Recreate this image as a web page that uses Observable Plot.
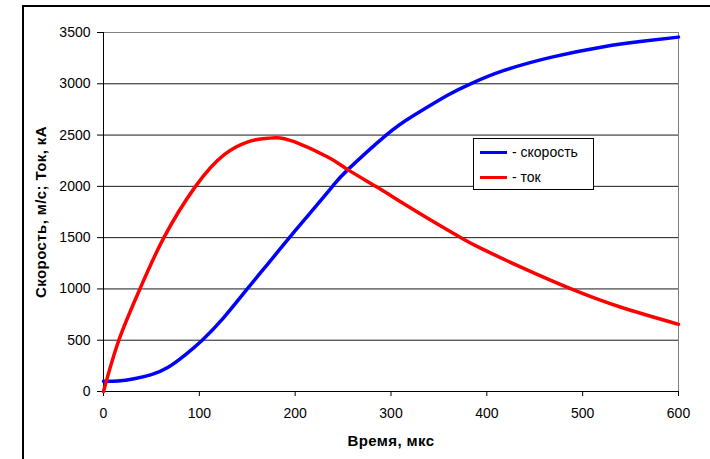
<!DOCTYPE html>
<html>
<head>
<meta charset="utf-8">
<script src="https://cdn.jsdelivr.net/npm/d3@7"></script>
<script src="https://cdn.jsdelivr.net/npm/@observablehq/plot@0.6"></script>
<style>
  html, body { margin: 0; padding: 0; background: #fff; }
  #wrap { position: relative; width: 710px; height: 459px; overflow: hidden; font-family: "Liberation Sans", Arial, sans-serif; }
  #frame { position: absolute; left: 22px; top: 5px; width: 800px; height: 600px; border-left: 2px solid #000; border-top: 2px solid #000; pointer-events: none; }
  #chart { position: absolute; left: 0; top: 0; }
  #legend { position: absolute; left: 473px; top: 138px; width: 119px; height: 49px; border: 1px solid #000; background: #fff; font-size: 14px; padding-top: 1px; box-sizing: content-box; }
  .row { height: 25px; line-height: 25px; display: flex; align-items: center; padding-left: 6px; white-space: nowrap; }
  .sw { width: 27px; height: 3px; margin-right: 5px; }
  .title-text { letter-spacing: 0.4px; }
</style>
</head>
<body>
<div id="wrap">
  <div id="chart"></div>
  <div id="frame"></div>
  <div id="legend"></div>
</div>
<script>
// Data
const speedTime = [0, 15, 32, 50, 67, 85, 103, 125, 150, 172, 194, 216, 239, 255, 295, 324, 359, 383, 418, 470, 522, 560, 600];
const speed     = [100, 103, 125, 165, 234, 355, 500, 715, 1000, 1250, 1500, 1745, 2000, 2163, 2500, 2693, 2888, 3000, 3130, 3265, 3362, 3412, 3455];

const currentTime = [0, 16, 38, 63, 96, 126, 150, 164, 180, 199, 234, 255, 284, 310, 340, 373, 394, 435, 488, 540, 600];
const current     = [0, 500, 1000, 1500, 2000, 2310, 2432, 2462, 2475, 2435, 2286, 2163, 2000, 1850, 1680, 1500, 1395, 1215, 1000, 821, 655];

const xTicks = [0, 100, 200, 300, 400, 500, 600];
const yTicks = [0, 500, 1000, 1500, 2000, 2500, 3000, 3500];

const seriesNames = ["- скорость", "- ток"];
const seriesColors = ["#0000FF", "#FF0000"];
const xTitle = "Время, мкс";
const yTitle = "Скорость, м/с; Ток, кА";

const speedData = speedTime.map((t, i) => ({t, v: speed[i]}));
const currentData = currentTime.map((t, i) => ({t, v: current[i]}));

const chart = Plot.plot({
  width: 710,
  height: 459,
  marginLeft: 103,
  marginRight: 32,
  marginTop: 32,
  marginBottom: 68,
  x: {domain: [0, 600]},
  y: {domain: [0, 3500]},
  style: {fontFamily: "'Liberation Sans', Arial, sans-serif", fontSize: "14px", color: "#000", background: "transparent", overflow: "visible"},
  marks: [
    Plot.ruleY(yTicks.filter(d => d > 0 && d < 3500), {stroke: "#000", strokeWidth: 1, strokeOpacity: 0.9}),
    Plot.ruleY([3500], {stroke: "#808080", strokeWidth: 1}),
    Plot.ruleX([600], {stroke: "#808080", strokeWidth: 1}),
    Plot.axisY(yTicks, {tickSize: 6, tickPadding: 7, label: null, tickFormat: d => String(d), stroke: "#000", fill: "#000"}),
    Plot.axisX(xTicks, {tickSize: 5, tickPadding: 12, label: null, tickFormat: d => String(d), stroke: "#000", fill: "#000"}),
    Plot.ruleX([0], {stroke: "#000", strokeWidth: 1}),
    Plot.ruleY([0], {stroke: "#000", strokeWidth: 1}),
    Plot.line(speedData, {x: "t", y: "v", stroke: seriesColors[0], strokeWidth: 3.5, curve: "natural"}),
    Plot.line(currentData, {x: "t", y: "v", stroke: seriesColors[1], strokeWidth: 3.5, curve: "natural"}),
    Plot.text([xTitle], {frameAnchor: "bottom", dy: 50, lineAnchor: "middle", fontWeight: "bold", fontSize: 15, fill: "#000", className: "title-text"}),
    Plot.text([yTitle], {frameAnchor: "left", dx: -62, rotate: -90, textAnchor: "middle", lineAnchor: "middle", fontWeight: "bold", fontSize: 15, fill: "#000", className: "title-text"})
  ]
});
document.getElementById("chart").appendChild(chart);

const legend = document.getElementById("legend");
seriesNames.forEach((name, i) => {
  const row = document.createElement("div");
  row.className = "row";
  const sw = document.createElement("div");
  sw.className = "sw";
  sw.style.background = seriesColors[i];
  const label = document.createElement("span");
  label.textContent = name;
  row.appendChild(sw);
  row.appendChild(label);
  legend.appendChild(row);
});
</script>
</body>
</html>
